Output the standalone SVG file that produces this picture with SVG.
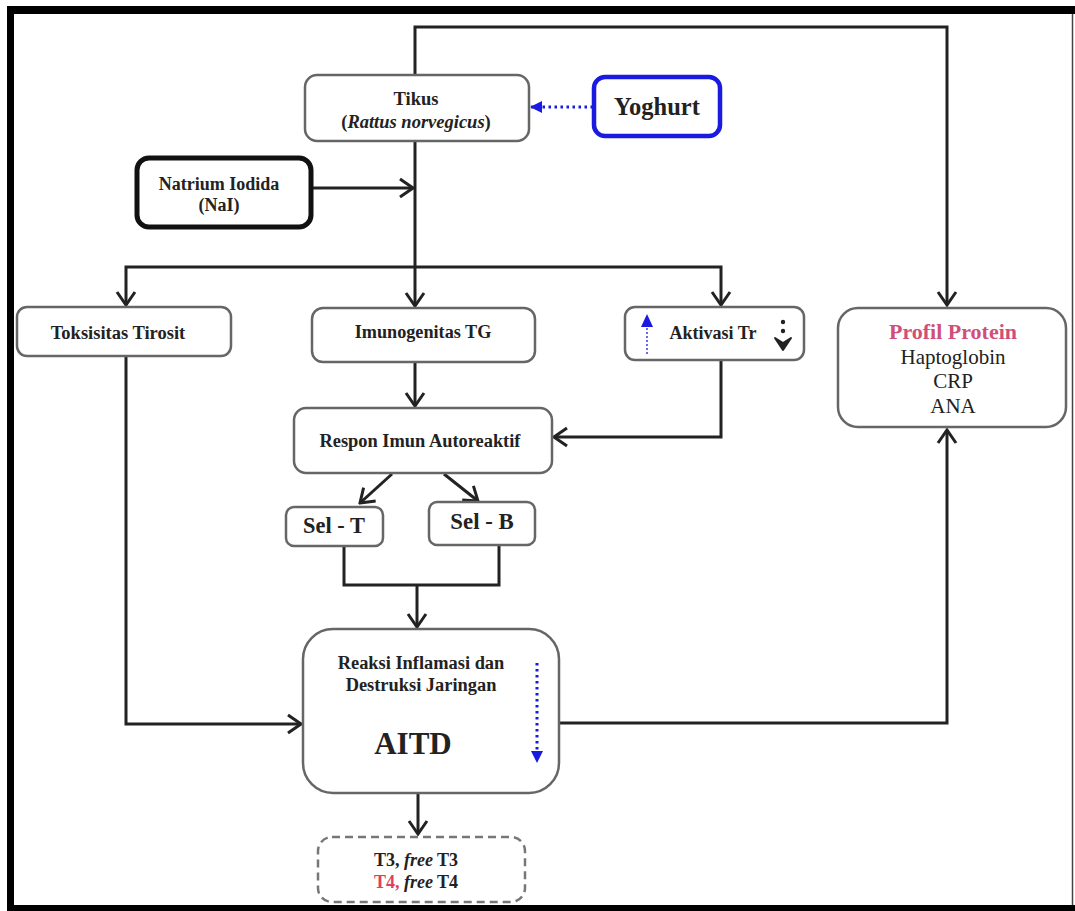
<svg xmlns="http://www.w3.org/2000/svg" width="1075" height="911" viewBox="0 0 1075 911">
<style>
.box{fill:#fff;stroke:#666;stroke-width:2.5}
.t{font-family:"Liberation Serif","Times New Roman",serif;font-weight:bold;fill:#222;text-anchor:middle}
.r{font-family:"Liberation Serif","Times New Roman",serif;fill:#222;text-anchor:middle}
.c{fill:none;stroke:#222;stroke-width:3;stroke-linejoin:miter}
</style>
<defs>
<marker id="arr" viewBox="-2 -2 17 22" refX="13" refY="9" markerWidth="17" markerHeight="22" markerUnits="userSpaceOnUse" orient="auto-start-reverse">
<path d="M0,0 L13,9 L0,18" fill="none" stroke="#222" stroke-width="3"/>
</marker>
<marker id="barr" viewBox="0 0 12 12" refX="11" refY="6" markerWidth="12" markerHeight="12" markerUnits="userSpaceOnUse" orient="auto">
<path d="M0,0 L12,6 L0,12 Z" fill="#1a1ae0"/>
</marker>
</defs>
<rect x="0" y="0" width="1075" height="911" fill="#fff"/>
<rect x="7" y="6" width="1068" height="905" fill="#000"/>
<rect x="14" y="14" width="1058" height="891" fill="#fff"/>
<rect x="1072" y="14" width="3" height="891" fill="#fff"/>
<line x1="1072.5" y1="14" x2="1072.5" y2="905" stroke="#444" stroke-width="1.5"/>

<g id="connectors">
<path class="c" d="M415,74 V27 H947 V305" marker-end="url(#arr)"/>
<path d="M593,107 H531" fill="none" stroke="#1a1ae0" stroke-width="3" stroke-dasharray="2.5,3.5" marker-end="url(#barr)"/>
<path class="c" d="M312,188 H413" marker-end="url(#arr)"/>
<path class="c" d="M415,141 V306" marker-end="url(#arr)"/>
<path class="c" d="M126,305 V267 H721 V305" marker-start="url(#arr)" marker-end="url(#arr)"/>
<path class="c" d="M415,362 V406" marker-end="url(#arr)"/>
<path class="c" d="M721,360 V437 H554" marker-end="url(#arr)"/>
<path class="c" d="M392,474 L360,503" marker-end="url(#arr)"/>
<path class="c" d="M444,474 L478,501" marker-end="url(#arr)"/>
<path class="c" d="M344,546 V585 H499 V545"/>
<path class="c" d="M417,585 V627" marker-end="url(#arr)"/>
<path class="c" d="M126,356 V724 H301" marker-end="url(#arr)"/>
<path class="c" d="M559,723 H947 V430" marker-end="url(#arr)"/>
<path class="c" d="M418,793 V834" marker-end="url(#arr)"/>
</g>

<g id="tikus">
<rect class="box" x="305" y="75" width="224" height="66" rx="12"/>
<text class="t" x="416" y="105" font-size="18.5">Tikus</text>
<text class="t" x="416" y="128" font-size="18.5">(<tspan font-style="italic">Rattus norvegicus</tspan>)</text>
</g>

<g id="yoghurt">
<rect x="594" y="77" width="126" height="59" rx="11" fill="#fff" stroke="#1a1ae0" stroke-width="4.5"/>
<text class="t" x="657" y="115" font-size="24.5">Yoghurt</text>
</g>

<g id="nai">
<rect x="137" y="158" width="174" height="69" rx="12" fill="#fff" stroke="#111" stroke-width="5"/>
<text class="t" x="219" y="190" font-size="18">Natrium Iodida</text>
<text class="t" x="219" y="211" font-size="18">(NaI)</text>
</g>

<g id="toksisitas">
<rect class="box" x="17" y="307" width="214" height="49" rx="10"/>
<text class="t" x="118" y="339" font-size="18.5">Toksisitas Tirosit</text>
</g>

<g id="imunogenitas">
<rect class="box" x="312" y="308" width="223" height="54" rx="11"/>
<text class="t" x="423" y="338" font-size="18.2">Imunogenitas TG</text>
</g>

<g id="aktivasi">
<rect class="box" x="625" y="307" width="179" height="53" rx="10"/>
<text class="t" x="713" y="339" font-size="18">Aktivasi Tr</text>
<line x1="647" y1="354" x2="647" y2="326" stroke="#6a6aee" stroke-width="2" stroke-dasharray="2,2"/>
<path d="M641,327 L647,314 L653,327 Z" fill="#1a1ae0"/>
<circle cx="783" cy="322" r="2.2" fill="#222"/>
<circle cx="783" cy="331" r="2.2" fill="#222"/>
<path d="M775,338 L783,343 L791,338 L783,350 Z" fill="#222" stroke="#222" stroke-width="2" stroke-linejoin="round"/>
</g>

<g id="profil">
<rect class="box" x="838" y="308" width="228" height="119" rx="20"/>
<text class="t" x="953" y="339" font-size="22" style="fill:#d04f7a">Profil Protein</text>
<text class="r" x="953" y="364" font-size="21">Haptoglobin</text>
<text class="r" x="953" y="388" font-size="21">CRP</text>
<text class="r" x="953" y="413" font-size="21">ANA</text>
</g>

<g id="respon">
<rect class="box" x="294" y="408" width="258" height="65" rx="12"/>
<text class="t" x="420" y="447" font-size="18.4">Respon Imun Autoreaktif</text>
</g>

<g id="selt">
<rect class="box" x="286" y="507" width="97" height="39" rx="8"/>
<text class="t" x="334" y="533" font-size="22.4">Sel - T</text>
</g>

<g id="selb">
<rect class="box" x="429" y="502" width="106" height="43" rx="8"/>
<text class="t" x="482" y="529" font-size="22.8">Sel - B</text>
</g>

<g id="aitd">
<rect class="box" x="303" y="629" width="256" height="164" rx="30"/>
<text class="t" x="421" y="669" font-size="18.4">Reaksi Inflamasi dan</text>
<text class="t" x="421" y="691" font-size="18.4">Destruksi Jaringan</text>
<text class="t" x="413" y="754" font-size="31">AITD</text>
<line x1="537" y1="663" x2="537" y2="751" stroke="#1a1ae0" stroke-width="3" stroke-dasharray="2.5,3.5"/>
<path d="M531,751 L543,751 L537,763 Z" fill="#1a1ae0"/>
</g>

<g id="hormon">
<rect x="318" y="837" width="207" height="65" rx="14" fill="#fff" stroke="#777" stroke-width="2.5" stroke-dasharray="8,5"/>
<text class="t" x="416" y="866" font-size="18">T3, <tspan font-style="italic">free</tspan> T3</text>
<text class="t" x="416" y="888" font-size="18"><tspan style="fill:#e0405f">T4,</tspan> <tspan font-style="italic">free</tspan> T4</text>
</g>
</svg>
